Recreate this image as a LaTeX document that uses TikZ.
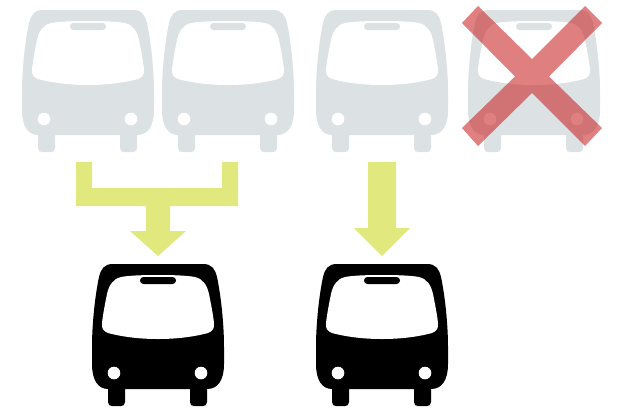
\documentclass[tikz,border=0pt]{standalone}
\usepackage{tikz}
\definecolor{BusGray}{HTML}{DCE1E3}
\definecolor{ArrowYellow}{HTML}{E1E87E}
\definecolor{CrossRed}{HTML}{CB2B2B}
\tikzset{flow/.style={fill=ArrowYellow},cross/.style={fill=CrossRed,fill opacity=.6},
  pics/bus/.style={code={
    \fill[#1] (-45,0)--(45,0) .. controls (54,0) and (57,5) .. (59,13) .. controls (63,32) and (66,60) .. (66,83)--(66,100) .. controls (66,116) and (60,125) .. (49,125)--(49,138) .. controls (49,141) and (47,142) .. (45,142)--(36,142) .. controls (34,142) and (32,141) .. (32,138)--(32,125)--(-33,125)--(-33,138) .. controls (-33,141) and (-35,142) .. (-37,142)--(-46,142) .. controls (-48,142) and (-50,141) .. (-50,138)--(-50,125) .. controls (-60,125) and (-66,116) .. (-66,100)--(-66,83) .. controls (-66,60) and (-63,32) .. (-59,13) .. controls (-57,5) and (-54,0) .. (-45,0)--cycle;
    \fill[white] (0,11) .. controls (16,11) and (29,11.5) .. (37,13) .. controls (45,15) and (49,21) .. (51,30) .. controls (53,40) and (55,50) .. (56,59) .. controls (56.5,64) and (55,67) .. (50,69) .. controls (35,73) and (18,75) .. (0,75) .. controls (-18,75) and (-35,73) .. (-50,69) .. controls (-55,67) and (-56.5,64) .. (-56,59) .. controls (-55,50) and (-53,40) .. (-51,30) .. controls (-49,21) and (-45,15) .. (-37,13) .. controls (-29,11.5) and (-16,11) .. (0,11)--cycle;
    \fill[#1,rounded corners=3.4pt] (-18,13) rectangle (18,20);
    \fill[white] (-44,109) circle (6.3) (43,109) circle (6.3);
  }}}
\begin{document}
\begin{tikzpicture}[x=1pt,y=-1pt]
  \useasboundingbox (0,0) rectangle (618,408);
  \foreach \x in {88,228,382,534} \pic at (\x,10) {bus=BusGray};
  \foreach \x in {158,382} \pic at (\x,264) {bus=black};
  % arrows
  \fill[flow] (76,162)--(92,162)--(92,188)--(222,188)--(222,162)--(238,162)--(238,206)--(170,206)--(170,231)--(186,231)--(158,256)--(130,231)--(146,231)--(146,206)--(76,206)--cycle;
  \fill[flow] (368,162)--(396,162)--(396,228)--(410,228)--(382,256)--(354,228)--(368,228)--cycle;
  % cross
  \fill[cross] (478,6)--(532,59)--(585,6)--(602,23)--(549,76.5)--(602,128)--(585,146)--(532,93)--(478,146)--(462,128)--(515,76.5)--(462,23)--cycle;
\end{tikzpicture}
\end{document}
